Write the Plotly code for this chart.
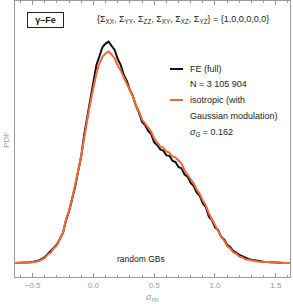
import plotly.graph_objects as go

# bin centres of the stress histogram (sigma_nn)
sigma = [-0.650, -0.625, -0.600, -0.575, -0.550, -0.525, -0.500, -0.475, -0.450, -0.425,
         -0.400, -0.375, -0.350, -0.325, -0.300, -0.275, -0.250, -0.225, -0.200, -0.175,
         -0.150, -0.125, -0.100, -0.075, -0.050, -0.025, 0.000, 0.025, 0.050, 0.075,
         0.100, 0.125, 0.150, 0.175, 0.200, 0.225, 0.250, 0.275, 0.300, 0.325,
         0.350, 0.375, 0.400, 0.425, 0.450, 0.475, 0.500, 0.525, 0.550, 0.575,
         0.600, 0.625, 0.650, 0.675, 0.700, 0.725, 0.750, 0.775, 0.800, 0.825,
         0.850, 0.875, 0.900, 0.925, 0.950, 0.975, 1.000, 1.025, 1.050, 1.075,
         1.100, 1.125, 1.150, 1.175, 1.200, 1.225, 1.250, 1.275, 1.300, 1.325,
         1.350, 1.375, 1.400, 1.425, 1.450, 1.475, 1.500, 1.525, 1.550, 1.575,
         1.600, 1.625, 1.650]

# PDF (arbitrary units) - FE (full)
pdf_fe = [0, 0, 0.1, 0.25, 0.5, 0.7, 1.0, 1.45, 2.45, 4,
          6, 9.1, 12.2, 15.8, 18.5, 24.3, 30.4, 42.9, 51.9, 63.9,
          76.5, 92.3, 107, 129, 145, 165, 181, 198, 207, 216,
          219.4, 221.4, 217, 213, 204, 198, 188, 182, 173, 167,
          157, 150.4, 141, 138, 132, 129, 120.6, 117.8, 113.6, 112.4,
          107.6, 107.3, 102.2, 101, 96, 94.6, 88.4, 86.2, 80, 77,
          70.4, 67.2, 59.6, 55.8, 46.2, 42.8, 35.6, 33.1, 26.4, 23.5,
          18.3, 16, 12, 10.5, 8.1, 6.6, 5, 4, 3.2, 2.5,
          1.95, 1.5, 1.15, 0.9, 0.65, 0.5, 0.35, 0.25, 0.15, 0.1,
          0.1, 0, 0]

# PDF - isotropic (with Gaussian modulation)
pdf_iso = [0, 0, 0.1, 0.2, 0.4, 0.55, 0.8, 1.2, 2, 3.3,
           5, 8.5, 10.5, 15, 17.5, 24.5, 30.5, 43.5, 52.5, 64.5,
           77.5, 92.5, 107.5, 127.5, 143.5, 160.5, 174.5, 189.5, 199.5, 206.5,
           209.5, 211.5, 208.5, 204.5, 197.5, 192.5, 185.5, 179.5, 172.5, 166.5,
           157.5, 151.5, 143.5, 139.5, 134.5, 131.5, 124.5, 120.5, 116.5, 115.5,
           111.5, 110.5, 106.5, 105.5, 102.5, 99.5, 92.5, 88.5, 83.5, 79.5,
           73.5, 69, 62.5, 57.5, 49.5, 44, 37, 32.5, 26.5, 22.5,
           17, 14.5, 10.5, 9.3, 6.5, 5.6, 3.8, 3.2, 2.3, 2,
           1.4, 1.2, 0.8, 0.6, 0.45, 0.35, 0.25, 0.2, 0.1, 0.05,
           0, 0, 0]

x_ticks = [-0.5, 0.0, 0.5, 1.0, 1.5]
x_ticklabels = ["\u22120.5", "0.0", "0.5", "1.0", "1.5"]

BLACK = "#111111"
ORANGE = "#EF6A3A"
GREY = "#9a9a9a"
FONT = "Liberation Sans, Arial, sans-serif"

fig = go.Figure()
fig.add_trace(go.Scatter(x=sigma, y=pdf_fe, mode="lines",
                         line=dict(color=BLACK, width=2), showlegend=False, hoverinfo="skip"))
fig.add_trace(go.Scatter(x=sigma, y=pdf_iso, mode="lines",
                         line=dict(color=ORANGE, width=2), showlegend=False, hoverinfo="skip"))

W, H = 293, 306
L, R, T, B = 15, 3, 1, 29
pw, ph = W - L - R, H - T - B

def px(x):
    return (x - L) / pw

def py(y):
    return 1 - (y - T) / ph

ann = []
ann.append(dict(x=px(45), y=py(20), xref="paper", yref="paper", text="<b>\u03b3\u2013Fe</b>",
                showarrow=False, font=dict(size=9, color="#222", family=FONT),
                bordercolor="#222", borderwidth=1, borderpad=2, width=31, height=10,
                bgcolor="white", xanchor="center", yanchor="middle"))
ann.append(dict(x=px(95), y=py(20), xref="paper", yref="paper",
                text="{\u03a3<sub>XX</sub>, \u03a3<sub>YY</sub>, \u03a3<sub>ZZ</sub>, \u03a3<sub>XY</sub>, \u03a3<sub>XZ</sub>, \u03a3<sub>YZ</sub>} = {1,0,0,0,0,0}",
                showarrow=False, font=dict(size=9, color="#222", family=FONT),
                xanchor="left", yanchor="middle"))
legend_lines = [("FE (full)", 69), ("N = 3 105 904", 84), ("isotropic (with", 100),
                ("Gaussian modulation)", 116), ("<i>\u03c3</i><sub>G</sub> = 0.162", 132)]
for t, yy in legend_lines:
    ann.append(dict(x=px(188), y=py(yy), xref="paper", yref="paper", text=t,
                    showarrow=False, font=dict(size=9, color="#222", family=FONT),
                    xanchor="left", yanchor="middle"))
ann.append(dict(x=px(141), y=py(259), xref="paper", yref="paper", text="random GBs",
                showarrow=False, font=dict(size=8.5, color="#222", family=FONT),
                xanchor="center", yanchor="middle"))
ann.append(dict(x=px(6), y=py(140), xref="paper", yref="paper", text="PDF", textangle=-90,
                showarrow=False, font=dict(size=8, color=GREY, family=FONT),
                xanchor="center", yanchor="middle"))
ann.append(dict(x=px(152), y=py(297), xref="paper", yref="paper",
                text="<i>\u03c3</i><sub>nn</sub>",
                showarrow=False, font=dict(size=9, color=GREY, family=FONT),
                xanchor="center", yanchor="middle"))

shapes = [
    dict(type="line", xref="paper", yref="paper", x0=px(170), x1=px(183), y0=py(69), y1=py(69),
         line=dict(color=BLACK, width=2)),
    dict(type="line", xref="paper", yref="paper", x0=px(170), x1=px(183), y0=py(100), y1=py(100),
         line=dict(color=ORANGE, width=2)),
]

fig.update_layout(
    width=W, height=H, margin=dict(l=L, r=R, t=T, b=B),
    paper_bgcolor="white", plot_bgcolor="white",
    font=dict(family=FONT, size=8, color=GREY),
    annotations=ann, shapes=shapes, showlegend=False, hovermode=False,
)
fig.update_xaxes(range=[-0.645, 1.617], tickvals=x_ticks, ticktext=x_ticklabels,
                 ticks="inside", ticklen=4, tickcolor=GREY, tickwidth=1,
                 minor=dict(dtick=0.1, tick0=0, ticks="inside", ticklen=2, tickcolor=GREY, showgrid=False),
                 showline=True, linecolor=GREY, linewidth=1, mirror="ticks",
                 showgrid=False, zeroline=False,
                 tickfont=dict(size=8, color=GREY, family=FONT))
fig.update_yaxes(range=[-14, 262], showticklabels=False, ticks="",
                 showline=True, linecolor=GREY, linewidth=1, mirror=True,
                 showgrid=False, zeroline=False)

fig.write_html("out.html", config={"displayModeBar": False},
               post_script="document.body.style.margin='0';document.body.style.padding='0';")
